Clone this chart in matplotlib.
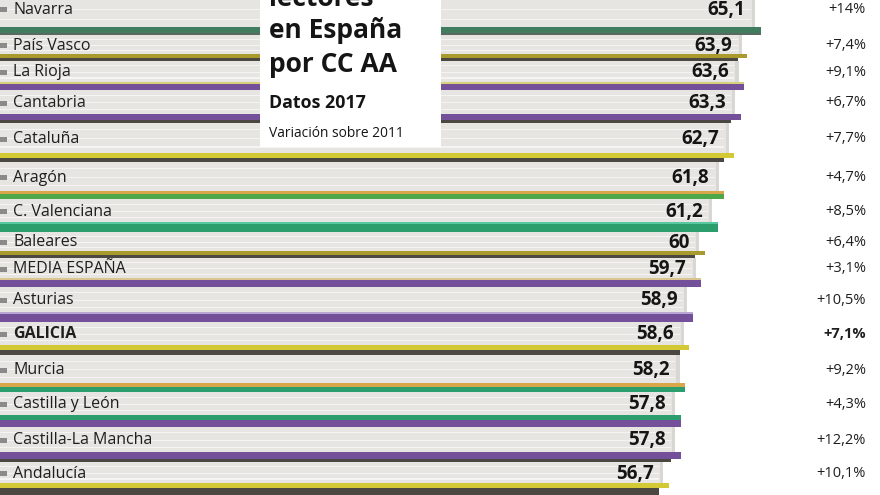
import matplotlib
matplotlib.use("Agg")
import matplotlib.pyplot as plt
from matplotlib.patches import Rectangle
from matplotlib.transforms import blended_transform_factory

regions = ["Navarra", "País Vasco", "La Rioja", "Cantabria", "Cataluña", "Aragón",
           "C. Valenciana", "Baleares", "MEDIA ESPAÑA", "Asturias", "GALICIA",
           "Murcia", "Castilla y León", "Castilla-La Mancha", "Andalucía"]
values = [65.1, 63.9, 63.6, 63.3, 62.7, 61.8, 61.2, 60.0, 59.7, 58.9, 58.6,
          58.2, 57.8, 57.8, 56.7]
value_labels = ["65,1", "63,9", "63,6", "63,3", "62,7", "61,8", "61,2", "60",
                "59,7", "58,9", "58,6", "58,2", "57,8", "57,8", "56,7"]
change_labels = ["+14%", "+7,4%", "+9,1%", "+6,7%", "+7,7%", "+4,7%", "+8,5%",
                 "+6,4%", "+3,1%", "+10,5%", "+7,1%", "+9,2%", "+4,3%",
                 "+12,2%", "+10,1%"]
highlight = "GALICIA"

# book look: thickness of each book (px) and its spine colours (top to bottom)
thickness = [45, 26, 29, 33, 39, 37, 33, 26, 29, 35, 33, 37, 35, 35, 33]
GREEN = "#3f7d5e"
OLIVE = "#a99a2e"
YELLOW = "#d2c935"
PURPLE = "#74509b"
ORANGE = "#d9a64a"
LGREEN = "#4ea84a"
TEAL = "#2c9d6c"
DARK = "#4b4741"
spines = [
    [(GREEN, 6), ("#5a6a60", 2)],
    [(OLIVE, 4), (DARK, 3)],
    [("#d8cf7a", 2), (PURPLE, 6)],
    [(PURPLE, 6), (DARK, 3)],
    [(YELLOW, 5), (DARK, 4)],
    [(ORANGE, 3), (LGREEN, 5)],
    [("#57c9a0", 2), (TEAL, 8)],
    [(OLIVE, 4), (DARK, 3)],
    [("#d8c590", 2), (PURPLE, 7)],
    [("#b9a6d2", 2), (PURPLE, 8)],
    [(YELLOW, 5), (DARK, 5)],
    [(ORANGE, 4), (TEAL, 5)],
    [(TEAL, 5), (PURPLE, 7)],
    [(PURPLE, 7), (DARK, 3)],
    [(YELLOW, 5), (DARK, 7)],
]

W, H = 880, 495
x_left, x_right = -3.84, 76.5

plt.rcParams["font.family"] = ["Open Sans", "DejaVu Sans"]
fig = plt.figure(figsize=(W / 100, H / 100), dpi=100)
ax = fig.add_axes([0, 0, 1, 1])
ax.set_xlim(x_left, x_right)
ax.set_ylim(H, 0)
ax.axis("off")
mixed = blended_transform_factory(ax.transAxes, ax.transData)

top = -10
for i, reg in enumerate(regions):
    v = values[i]
    strip_total = sum(h for c, h in spines[i])
    body_h = thickness[i] - strip_total
    # book body with page lines and a shaded fore-edge
    ax.barh(top, v - x_left, height=body_h, left=x_left, align="edge",
            color="#e7e5e2", edgecolor="none")
    for f in (0.2, 0.5, 0.78):
        ax.barh(top + body_h * f, v - x_left - 0.4, height=1.2, left=x_left,
                align="edge", color="#f5f4f2", edgecolor="none")
    ax.barh(top, 0.3, height=body_h, left=v - 0.3, align="edge",
            color="#d9d7d3", edgecolor="none")
    # spine strips
    y = top + body_h
    for c, h in spines[i]:
        ext = 0.5 if c != DARK else -0.4
        ax.barh(y, v - x_left + ext, height=h, left=x_left, align="edge",
                color=c, edgecolor="none")
        y += h
    yc = top + body_h / 2 + 1
    bold = reg == highlight
    ax.add_patch(Rectangle((0, yc - 2.5), 7 / W, 5, transform=mixed,
                           color="#8a8a8a", lw=0))
    ax.text(13 / W, yc, reg, transform=mixed, va="center", ha="left",
            fontsize=11.5, color="#1e1e1e",
            fontweight="bold" if bold else "normal")
    ax.annotate(value_labels[i], (v, yc), xytext=(-7, 0),
                textcoords="offset points", va="center", ha="right",
                fontsize=13.5, fontweight="bold", color="#151515")
    ax.text(866 / W, yc, change_labels[i], transform=mixed, va="center",
            ha="right", fontsize=10.5, color="#1e1e1e",
            fontweight="bold" if bold else "normal")
    top += thickness[i]

# title box
ax.add_patch(Rectangle((260 / W, 1 - 147 / H), 181 / W, 150 / H,
                       transform=ax.transAxes, color="white", lw=0, zorder=10))
title_lines = [("lectores", 6, 19, "bold"), ("en España", 38, 19, "bold"),
               ("por CC AA", 72, 19, "bold"), ("Datos 2017", 108, 12.8, "bold"),
               ("Variación sobre 2011", 137, 9.9, "normal")]
for txt, base, size, wt in title_lines:
    ax.text(269 / W, 1 - base / H, txt, transform=ax.transAxes, va="baseline",
            ha="left", fontsize=size, fontweight=wt, color="#151515", zorder=11)

fig.savefig("out.png", dpi=100)
